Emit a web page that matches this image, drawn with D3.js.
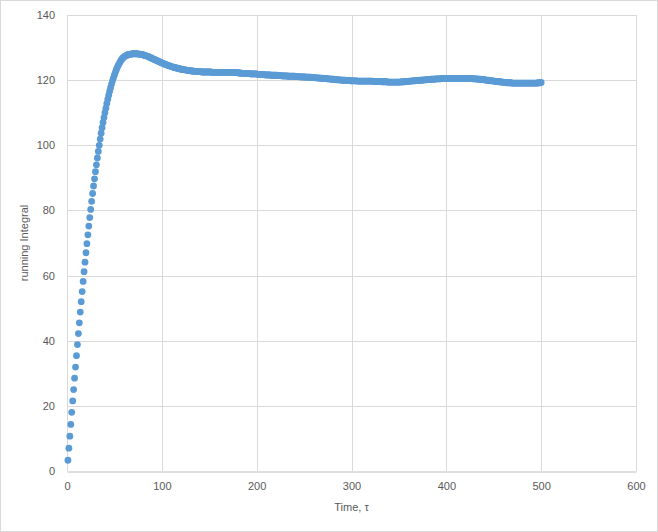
<!DOCTYPE html>
<html>
<head>
<meta charset="utf-8">
<script src="https://cdn.jsdelivr.net/npm/d3@7"></script>
<style>
  body { margin: 0; background: #fff; }
  #chart { width: 658px; height: 532px; }
</style>
</head>
<body>
<div id="chart"></div>
<script>
// running integral, one sample per unit of time starting at t = 1
const integralValues = [
  3.3, 7.0, 10.7, 14.3, 18.0, 21.5, 25.0, 28.5, 31.9, 35.4,
  38.8, 42.2, 45.5, 48.8, 52.0, 55.1, 58.2, 61.2, 64.1, 67.0,
  69.8, 72.5, 75.2, 77.8, 80.3, 82.8, 85.2, 87.5, 89.7, 91.9,
  94.0, 96.1, 98.1, 100.0, 101.9, 103.7, 105.4, 107.0, 108.5, 110.0,
  111.4, 112.8, 114.1, 115.4, 116.6, 117.7, 118.8, 119.8, 120.7, 121.6,
  122.4, 123.2, 123.9, 124.5, 125.1, 125.6, 126.1, 126.5, 126.8, 127.1,
  127.3, 127.5, 127.6, 127.8, 127.9, 127.9, 128.0, 128.0, 128.1, 128.1,
  128.1, 128.1, 128.1, 128.1, 128.0, 128.0, 128.0, 127.9, 127.9, 127.8,
  127.7, 127.6, 127.5, 127.4, 127.3, 127.2, 127.0, 126.9, 126.8, 126.6,
  126.5, 126.4, 126.2, 126.1, 126.0, 125.8, 125.7, 125.6, 125.4, 125.3,
  125.2, 125.1, 124.9, 124.8, 124.7, 124.6, 124.5, 124.4, 124.3, 124.2,
  124.1, 124.0, 123.9, 123.8, 123.8, 123.7, 123.6, 123.5, 123.5, 123.4,
  123.3, 123.3, 123.2, 123.2, 123.1, 123.1, 123.0, 123.0, 122.9, 122.9,
  122.8, 122.8, 122.8, 122.7, 122.7, 122.7, 122.6, 122.6, 122.6, 122.6,
  122.6, 122.5, 122.5, 122.5, 122.5, 122.5, 122.5, 122.5, 122.5, 122.5,
  122.5, 122.5, 122.4, 122.4, 122.4, 122.4, 122.4, 122.4, 122.4, 122.4,
  122.4, 122.4, 122.4, 122.4, 122.4, 122.4, 122.4, 122.4, 122.4, 122.4,
  122.4, 122.4, 122.4, 122.4, 122.4, 122.3, 122.3, 122.3, 122.3, 122.3,
  122.2, 122.2, 122.2, 122.1, 122.1, 122.1, 122.1, 122.0, 122.0, 122.0,
  122.0, 122.0, 122.0, 121.9, 121.9, 121.9, 121.9, 121.9, 121.9, 121.9,
  121.8, 121.8, 121.8, 121.8, 121.7, 121.7, 121.7, 121.7, 121.6, 121.6,
  121.6, 121.6, 121.6, 121.6, 121.5, 121.5, 121.5, 121.5, 121.5, 121.5,
  121.5, 121.4, 121.4, 121.4, 121.4, 121.4, 121.3, 121.3, 121.3, 121.3,
  121.3, 121.3, 121.2, 121.2, 121.2, 121.2, 121.2, 121.2, 121.2, 121.2,
  121.1, 121.1, 121.1, 121.1, 121.1, 121.0, 121.0, 121.0, 121.0, 121.0,
  121.0, 120.9, 120.9, 120.9, 120.9, 120.9, 120.9, 120.8, 120.8, 120.8,
  120.8, 120.7, 120.7, 120.7, 120.7, 120.6, 120.6, 120.6, 120.6, 120.5,
  120.5, 120.5, 120.5, 120.4, 120.4, 120.4, 120.4, 120.3, 120.3, 120.3,
  120.3, 120.2, 120.2, 120.2, 120.1, 120.1, 120.1, 120.1, 120.0, 120.0,
  120.0, 120.0, 120.0, 119.9, 119.9, 119.9, 119.9, 119.9, 119.8, 119.8,
  119.8, 119.8, 119.8, 119.8, 119.8, 119.7, 119.7, 119.7, 119.7, 119.7,
  119.7, 119.7, 119.7, 119.7, 119.7, 119.7, 119.7, 119.7, 119.7, 119.7,
  119.7, 119.7, 119.6, 119.6, 119.6, 119.6, 119.6, 119.6, 119.6, 119.6,
  119.6, 119.5, 119.5, 119.5, 119.5, 119.5, 119.5, 119.4, 119.4, 119.4,
  119.4, 119.4, 119.4, 119.4, 119.4, 119.4, 119.4, 119.4, 119.4, 119.4,
  119.4, 119.4, 119.5, 119.5, 119.5, 119.5, 119.6, 119.6, 119.6, 119.6,
  119.7, 119.7, 119.7, 119.8, 119.8, 119.8, 119.8, 119.9, 119.9, 119.9,
  119.9, 120.0, 120.0, 120.0, 120.0, 120.1, 120.1, 120.1, 120.1, 120.2,
  120.2, 120.2, 120.2, 120.3, 120.3, 120.3, 120.3, 120.3, 120.4, 120.4,
  120.4, 120.4, 120.4, 120.4, 120.5, 120.5, 120.5, 120.5, 120.5, 120.5,
  120.5, 120.5, 120.5, 120.5, 120.5, 120.5, 120.5, 120.5, 120.5, 120.5,
  120.5, 120.5, 120.5, 120.5, 120.5, 120.5, 120.5, 120.5, 120.5, 120.5,
  120.5, 120.5, 120.5, 120.5, 120.5, 120.5, 120.5, 120.4, 120.4, 120.4,
  120.4, 120.4, 120.3, 120.3, 120.3, 120.3, 120.2, 120.2, 120.2, 120.1,
  120.1, 120.0, 120.0, 120.0, 119.9, 119.9, 119.8, 119.8, 119.8, 119.7,
  119.7, 119.6, 119.6, 119.6, 119.5, 119.5, 119.5, 119.4, 119.4, 119.4,
  119.3, 119.3, 119.3, 119.2, 119.2, 119.2, 119.2, 119.2, 119.1, 119.1,
  119.1, 119.1, 119.1, 119.1, 119.1, 119.1, 119.1, 119.1, 119.1, 119.1,
  119.1, 119.1, 119.1, 119.1, 119.1, 119.1, 119.1, 119.1, 119.1, 119.1,
  119.1, 119.1, 119.1, 119.1, 119.1, 119.1, 119.2, 119.2, 119.2, 119.3
];
// sample times 1..500
const timeValues = d3.range(1, integralValues.length + 1);

const xTicks = [0, 100, 200, 300, 400, 500, 600];
const yTicks = [0, 20, 40, 60, 80, 100, 120, 140];
const xTitle = "Time, \u03c4";
const yTitle = "running Integral";

const W = 658, H = 532;
const margin = { top: 15, right: 22, bottom: 61, left: 67 };
const width = W - margin.left - margin.right;
const height = H - margin.top - margin.bottom;

const svg = d3.select("#chart")
    .append("svg")
    .attr("width", W)
    .attr("height", H)
    .style("font-family", "'Liberation Sans', Arial, sans-serif");

// chart border
svg.append("rect")
    .attr("x", 0.5).attr("y", 0.5)
    .attr("width", W - 1).attr("height", H - 1)
    .attr("fill", "#fff")
    .attr("stroke", "#d9d9d9");

const g = svg.append("g")
    .attr("transform", `translate(${margin.left},${margin.top})`);

const x = d3.scaleLinear().domain([0, 600]).range([0, width]);
const y = d3.scaleLinear().domain([0, 140]).range([height, 0]);

// gridlines
g.append("g")
    .selectAll("line")
    .data(yTicks.slice(1))
    .join("line")
    .attr("x1", 0).attr("x2", width)
    .attr("y1", d => Math.round(y(d)) + 0.5)
    .attr("y2", d => Math.round(y(d)) + 0.5)
    .attr("stroke", "#d9d9d9");

g.append("g")
    .selectAll("line")
    .data(xTicks)
    .join("line")
    .attr("y1", 0).attr("y2", height)
    .attr("x1", d => Math.round(x(d)) + 0.5)
    .attr("x2", d => Math.round(x(d)) + 0.5)
    .attr("stroke", "#d9d9d9");

// x axis
const xAxis = g.append("g")
    .attr("transform", `translate(0,${Math.round(height) + 0.5})`)
    .call(d3.axisBottom(x).tickValues(xTicks).tickSize(0).tickPadding(11));
xAxis.select(".domain").attr("stroke", "#bfbfbf");
xAxis.selectAll("text").attr("fill", "#595959").attr("font-size", 11);

// y axis
const yAxis = g.append("g")
    .call(d3.axisLeft(y).tickValues(yTicks).tickSize(0).tickPadding(12));
yAxis.select(".domain").remove();
yAxis.selectAll("text").attr("fill", "#595959").attr("font-size", 11);

// axis titles
g.append("text")
    .attr("x", width / 2)
    .attr("y", height + 40)
    .attr("text-anchor", "middle")
    .attr("fill", "#595959")
    .attr("font-size", 11)
    .text(xTitle);

g.append("text")
    .attr("transform", "rotate(-90)")
    .attr("x", -height / 2)
    .attr("y", -39)
    .attr("text-anchor", "middle")
    .attr("fill", "#595959")
    .attr("font-size", 11)
    .text(yTitle);

// markers
g.append("g")
    .selectAll("circle")
    .data(timeValues)
    .join("circle")
    .attr("cx", (d, i) => x(d))
    .attr("cy", (d, i) => y(integralValues[i]))
    .attr("r", 3.4)
    .attr("fill", "#5b9bd5");
</script>
</body>
</html>
